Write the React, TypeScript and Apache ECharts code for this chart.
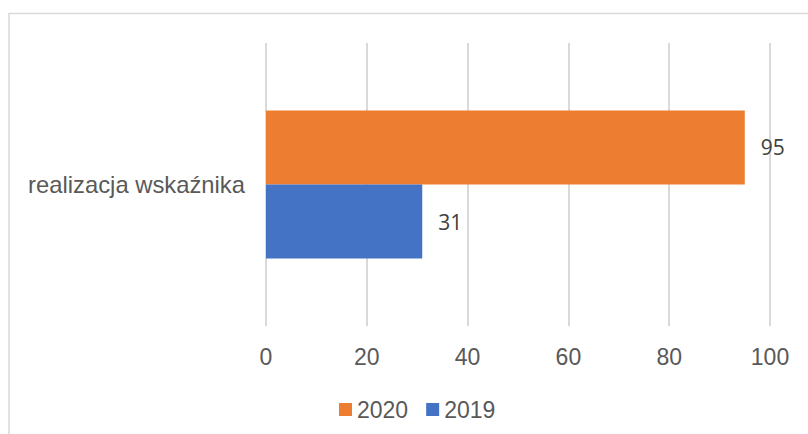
import React, { useEffect, useRef } from "react";
import * as echarts from "echarts";

const categories = ["realizacja wskaźnika"];
const values2019 = [31];
const values2020 = [95];
const seriesNames = ["2020", "2019"];

export default function App() {
  const ref = useRef<HTMLDivElement>(null);
  useEffect(() => {
    if (!ref.current) return;
    const chart = echarts.init(ref.current, undefined, { renderer: "svg" });
    const font = "'Liberation Sans', Arial, sans-serif";
    const label = {
      show: true,
      position: "right",
      distance: 16,
      fontSize: 21,
      color: "#404040",
      fontFamily: "'Open Sans', sans-serif",
    };
    chart.setOption({
      animation: false,
      backgroundColor: "#ffffff",
      graphic: [
        {
          type: "rect",
          shape: { x: 9, y: 13.5, width: 830, height: 460 },
          style: { fill: "none", stroke: "#d9d9d9", lineWidth: 1.5 },
          silent: true,
        },
      ],
      grid: { left: 266, right: 38, top: 43, bottom: 108, containLabel: false },
      legend: {
        data: seriesNames,
        left: 334,
        top: 393,
        icon: "rect",
        itemWidth: 13,
        itemHeight: 13,
        itemGap: 18,
        textStyle: { fontSize: 23, color: "#595959", fontFamily: font },
      },
      xAxis: {
        type: "value",
        min: 0,
        max: 100,
        interval: 20,
        axisLine: { show: false },
        axisTick: { show: false },
        splitLine: { show: true, lineStyle: { color: "#d9d9d9", width: 2 } },
        axisLabel: { fontSize: 23, color: "#595959", fontFamily: font, margin: 19 },
      },
      yAxis: {
        type: "category",
        data: categories,
        axisLine: { show: false },
        axisTick: { show: false },
        axisLabel: { fontSize: 23.8, color: "#595959", fontFamily: font, margin: 21 },
      },
      series: [
        {
          name: "2020",
          type: "bar",
          data: values2020,
          itemStyle: { color: "#ed7d31" },
          barGap: "0%",
          barCategoryGap: "47.7%",
          label,
        },
        {
          name: "2019",
          type: "bar",
          data: values2019,
          itemStyle: { color: "#4472c4" },
          barGap: "0%",
          barCategoryGap: "47.7%",
          label,
        },
      ],
    });
    return () => chart.dispose();
  }, []);
  return (
    <div
      ref={ref}
      style={{ position: "fixed", left: 0, top: 0, width: 808, height: 434 }}
    />
  );
}
